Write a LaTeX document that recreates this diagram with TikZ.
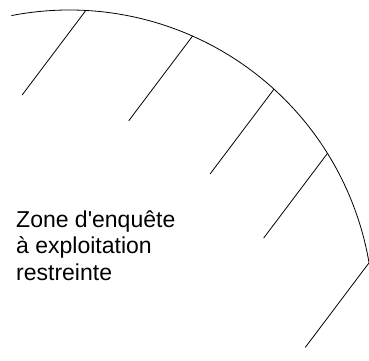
\documentclass[tikz,border=0pt]{standalone}
\usepackage{fontspec}
\setmainfont{Liberation Sans}[Ligatures=TeXOff]
\begin{document}
\begin{tikzpicture}[x=1pt,y=1pt,
            rim/.style={line width=0.8pt},
            hatch/.style={line width=0.8pt},
            zonetext/.style={align=left, inner sep=0pt, anchor=base west, font=\fontsize{23}{26.5}\selectfont}
            ]
            \useasboundingbox (0,0) rectangle (369,360);
            \clip (0,0) rectangle (369,360);
            \coordinate (o) at (69.4,46);
            \coordinate (s) at ([shift={(101:304pt)}]o);

            \draw[rim] (s) arc[start angle=101, end angle=5, radius=304pt];

            \coordinate (a1) at ([shift={(86.9:304pt)}]o);
            \coordinate (a2) at ([shift={(66.1:304pt)}]o);
            \coordinate (a3) at ([shift={(47.7:304pt)}]o);
            \coordinate (a4) at ([shift={(31.9:304pt)}]o);
            \coordinate (a5) at ([shift={(9.7:304pt)}]o);
            \coordinate (b1) at ([shift={(233:106pt)}]a1);
            \coordinate (b2) at ([shift={(233:106pt)}]a2);
            \coordinate (b3) at ([shift={(233:106pt)}]a3);
            \coordinate (b4) at ([shift={(233:106pt)}]a4);
            \coordinate (b5) at ([shift={(233:106pt)}]a5);

            \draw[hatch] (a1)--(b1);
            \draw[hatch] (a2)--(b2);
            \draw[hatch] (a3)--(b3);
            \draw[hatch] (a4)--(b4);
            \draw[hatch] (a5)--(b5);

            % anchor is the baseline of the last line
            \node[zonetext] (zone) at (16,80) {Zone d'enquête\\à exploitation\\restreinte};

            \end{tikzpicture}
\end{document}
